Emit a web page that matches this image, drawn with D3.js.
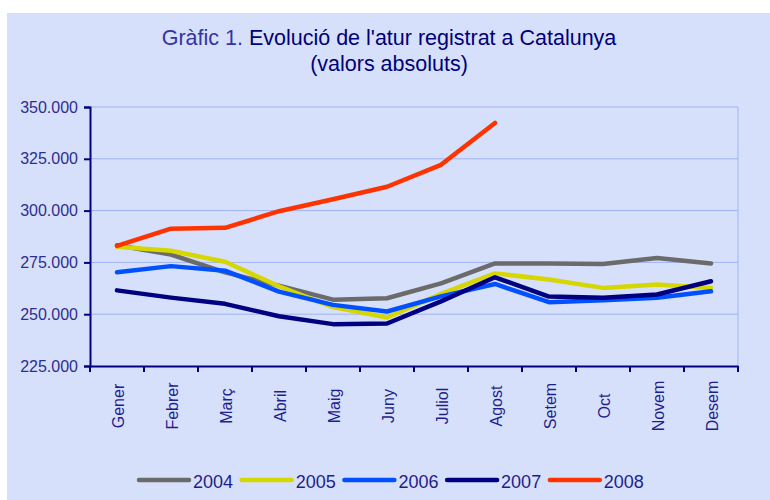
<!DOCTYPE html>
<html>
<head>
<meta charset="utf-8">
<script src="https://cdn.jsdelivr.net/npm/d3@7"></script>
<style>
  body { margin: 0; background: #ffffff; }
  svg { display: block; font-family: "Liberation Sans", Arial, sans-serif; }
</style>
</head>
<body>
<div id="okvir"></div>
<script>
// dades
var mesos = ["Gener", "Febrer", "Març", "Abril", "Maig", "Juny", "Juliol", "Agost", "Setem", "Oct", "Novem", "Desem"];
var anys = ["2004", "2005", "2006", "2007", "2008"];
var atur2004 = [283300, 278800, 270200, 263800, 257000, 257700, 264900, 274500, 274500, 274200, 277100, 274500];
var atur2005 = [282500, 280600, 275300, 263500, 253400, 248400, 259800, 269700, 266700, 262700, 264300, 262700];
var atur2006 = [270200, 273200, 271000, 260900, 254500, 251300, 258600, 264600, 255800, 256700, 257900, 261100];
var atur2007 = [261500, 258000, 255000, 249000, 245200, 245500, 256200, 267800, 258500, 257900, 259500, 265900];
var atur2008 = [283000, 291300, 291700, 299700, 305500, 311500, 322100, 342300];
var yTicks = [225000, 250000, 275000, 300000, 325000, 350000];
var colors = ["#6b6b6b", "#d6d600", "#0050ff", "#000080", "#ff3300"];

var series = [atur2004, atur2005, atur2006, atur2007, atur2008];

var width = 770, height = 500;
var margin = { top: 107, right: 32, bottom: 134, left: 90 };

var svg = d3.select("#okvir").append("svg")
    .attr("width", width)
    .attr("height", height);

// fons
svg.append("rect")
    .attr("x", 7).attr("y", 13)
    .attr("width", width - 7).attr("height", height - 13)
    .attr("fill", "#d7e0fb");

var x = d3.scaleBand()
    .domain(mesos)
    .range([margin.left, width - margin.right]);

var y = d3.scaleLinear()
    .domain([225000, 350000])
    .range([height - margin.bottom, margin.top]);

// títol
var title = svg.append("text")
    .attr("x", 389).attr("y", 45)
    .attr("text-anchor", "middle")
    .style("font-size", "21.5px");
title.append("tspan").attr("fill", "#3434a6").text("Gràfic 1. ");
title.append("tspan").attr("fill", "#000078").text("Evolució de l'atur registrat a Catalunya");
svg.append("text")
    .attr("x", 389).attr("y", 71)
    .attr("text-anchor", "middle")
    .attr("fill", "#000078")
    .style("font-size", "21.5px")
    .text("(valors absoluts)");

// línies de graella
svg.append("g")
    .selectAll("line")
    .data(yTicks.filter(d => d > 225000))
    .enter()
    .append("line")
    .attr("x1", margin.left).attr("x2", width - margin.right)
    .attr("y1", d => y(d)).attr("y2", d => y(d))
    .attr("stroke", "#9fb3f2").attr("stroke-width", 1);

svg.append("line")
    .attr("x1", width - margin.right).attr("x2", width - margin.right)
    .attr("y1", margin.top).attr("y2", height - margin.bottom)
    .attr("stroke", "#9fb3f2").attr("stroke-width", 1);

// eix y
var yAxis = svg.append("g")
    .attr("transform", "translate(" + margin.left + ",0)")
    .call(d3.axisLeft(y).tickValues(yTicks).tickSize(6).tickPadding(6)
        .tickFormat(d => d3.format(",")(d).replace(/,/g, ".")));
yAxis.select(".domain").attr("stroke", "#000080").attr("stroke-width", 2);
yAxis.selectAll(".tick line").attr("stroke", "#000080").attr("stroke-width", 2);
yAxis.selectAll("text")
    .attr("fill", "#2d2d90")
    .style("font-size", "16px");

// eix x
var xAxis = svg.append("g")
    .attr("transform", "translate(0," + (height - margin.bottom) + ")")
    .call(d3.axisBottom(x).tickSize(0).tickFormat(""));
xAxis.select(".domain").attr("stroke", "#000080").attr("stroke-width", 2);

svg.append("g")
    .selectAll("line")
    .data(d3.range(mesos.length + 1))
    .enter()
    .append("line")
    .attr("x1", i => margin.left + i * x.step())
    .attr("x2", i => margin.left + i * x.step())
    .attr("y1", height - margin.bottom)
    .attr("y2", height - margin.bottom + 6)
    .attr("stroke", "#000080").attr("stroke-width", 2);

svg.append("g")
    .selectAll("text")
    .data(mesos)
    .enter()
    .append("text")
    .attr("transform", d => "translate(" + (x(d) + x.bandwidth() / 2 + 7) + "," + 406 + ") rotate(-90)")
    .attr("text-anchor", "middle")
    .attr("fill", "#1e1e8c")
    .style("font-size", "16px")
    .text(d => d);

// línies
var line = d3.line()
    .x((d, i) => x(mesos[i]) + x.bandwidth() / 2)
    .y(d => y(d));

svg.append("g")
    .selectAll("path")
    .data(series)
    .enter()
    .append("path")
    .attr("d", d => line(d))
    .attr("fill", "none")
    .attr("stroke", (d, i) => colors[i])
    .attr("stroke-width", 4.5)
    .attr("stroke-linejoin", "round")
    .attr("stroke-linecap", "round");

// llegenda
var legend = svg.append("g")
    .selectAll("g")
    .data(anys)
    .enter()
    .append("g")
    .attr("transform", (d, i) => "translate(" + (139 + i * 102.7) + ",480)");
legend.append("line")
    .attr("x1", 0).attr("x2", 50)
    .attr("y1", 0).attr("y2", 0)
    .attr("stroke", (d, i) => colors[i])
    .attr("stroke-width", 4.5)
    .attr("stroke-linecap", "round");
legend.append("text")
    .attr("x", 54).attr("y", 8)
    .attr("fill", "#1e1e8c")
    .style("font-size", "18px")
    .text(d => d);
</script>
</body>
</html>
